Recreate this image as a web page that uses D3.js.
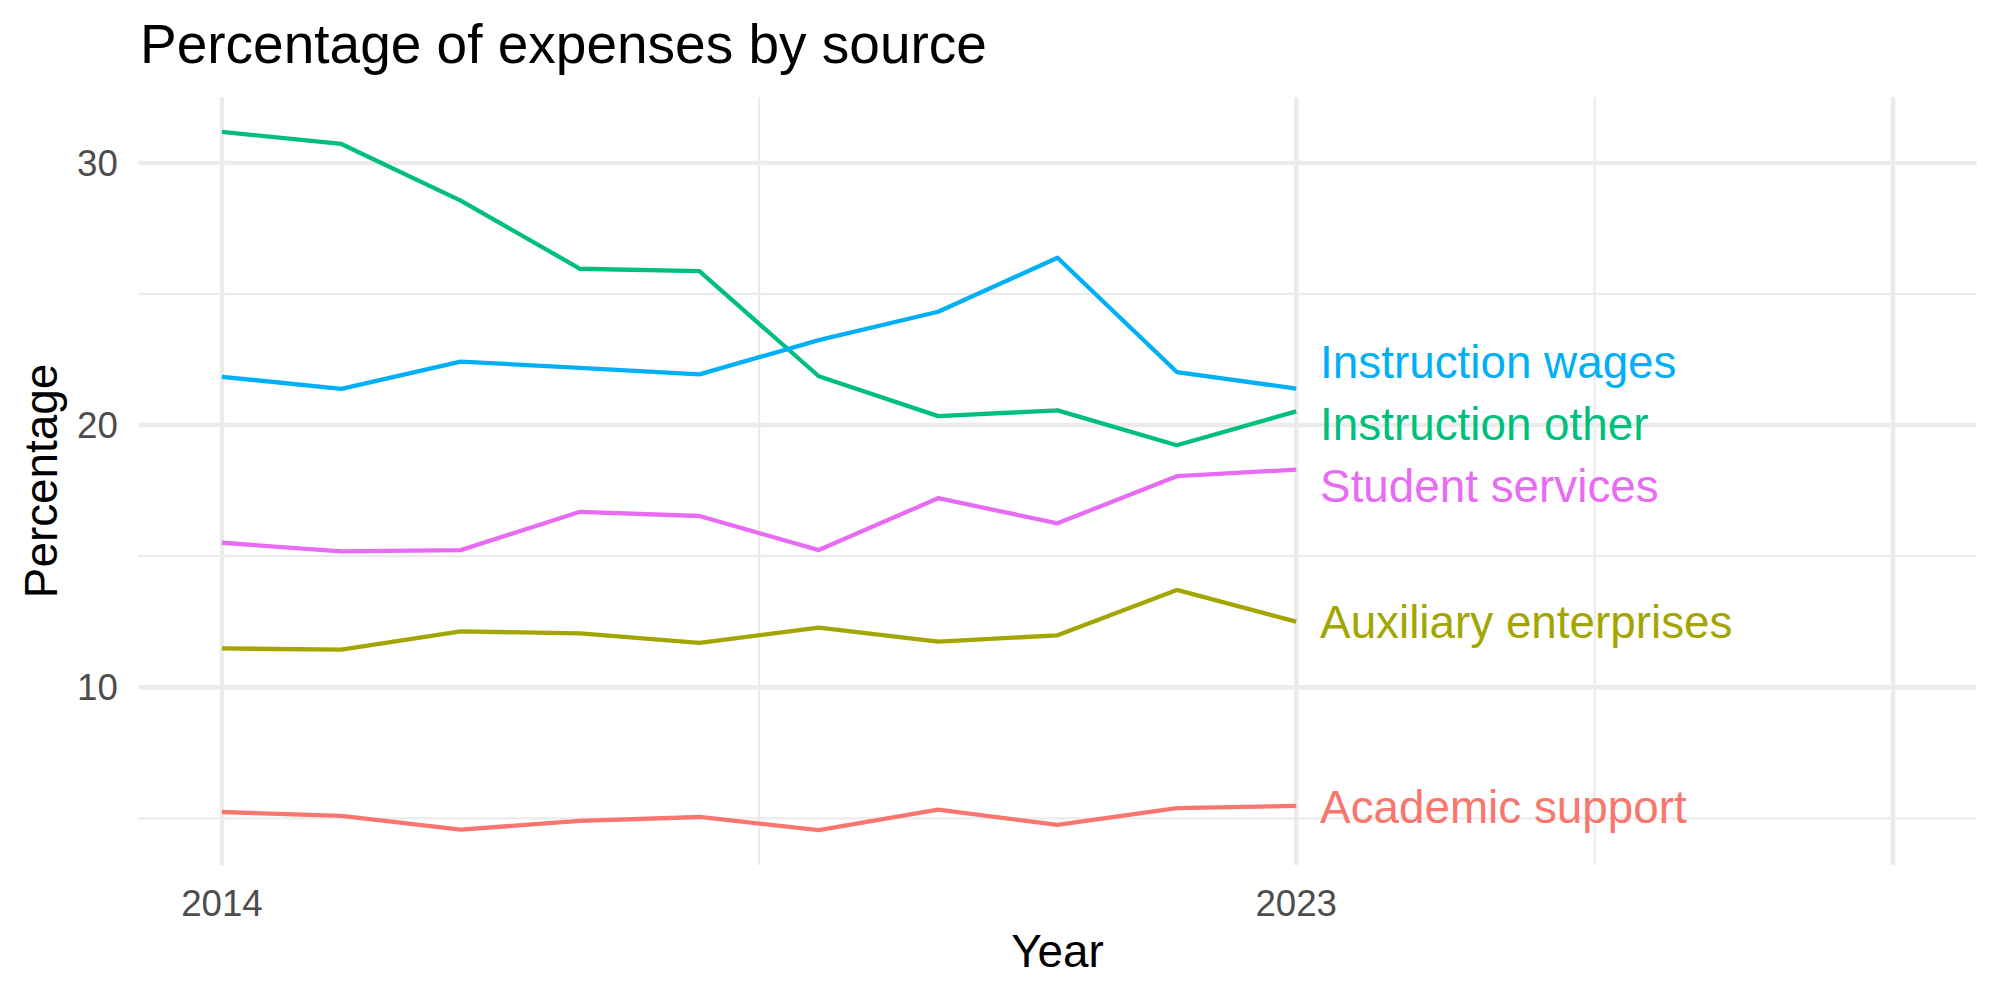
<!DOCTYPE html>
<html>
<head>
<meta charset="utf-8">
<script src="https://cdn.jsdelivr.net/npm/d3@7"></script>
<style>
  body { margin: 0; background: #fff; }
</style>
</head>
<body>
<script>
 let width = 2000;
 let height = 1000;

 // data
 const years = [2014, 2015, 2016, 2017, 2018, 2019, 2020, 2021, 2022, 2023];
 const series = ["Academic support", "Auxiliary enterprises", "Instruction other", "Instruction wages", "Student services"];
 const academicSupport   = [5.24, 5.09, 4.57, 4.90, 5.05, 4.55, 5.33, 4.75, 5.39, 5.47];
 const auxiliary         = [11.48, 11.43, 12.13, 12.05, 11.69, 12.27, 11.74, 11.98, 13.71, 12.50];
 const instructionOther  = [31.18, 30.72, 28.56, 25.96, 25.87, 21.86, 20.34, 20.56, 19.23, 20.52];
 const instructionWages  = [21.84, 21.38, 22.42, 22.18, 21.93, 23.24, 24.32, 26.38, 22.02, 21.39];
 const studentServices   = [15.51, 15.18, 15.23, 16.69, 16.53, 15.23, 17.21, 16.25, 18.05, 18.30];
 const colors = ["#F8766D", "#A3A500", "#00BF7D", "#00B0F6", "#E76BF3"];

 const xLimits = [2014, 2028];
 const xTicks = [2014, 2023, 2028];
 const xTickLabels = ["2014", "2023", ""];
 const xMinor = [2018.5, 2025.5];
 const yTicks = [10, 20, 30];
 const yMinor = [5, 15, 25];

 const values = [academicSupport, auxiliary, instructionOther, instructionWages, studentServices];
 const data = series.map((name, i) => ({
   name: name,
   color: colors[i],
   points: years.map((yr, j) => ({year: yr, value: values[i][j]}))
 }));

 // panel box
 const panel = {left: 138.4, right: 1976.6, top: 97, bottom: 865};
 const font = "'Liberation Sans', Arial, Helvetica, sans-serif";

 // ggplot style 5% expansion
 function expand(ext){
   let r = ext[1] - ext[0];
   return [ext[0] - r * 0.05, ext[1] + r * 0.05];
 }

 const allValues = values.flat();
 const x = d3.scaleLinear()
   .domain(expand(xLimits))
   .range([panel.left, panel.right]);
 const y = d3.scaleLinear()
   .domain(expand(d3.extent(allValues)))
   .range([panel.bottom, panel.top]);

 var svg = d3.select("body").append("svg")
   .attr("width", width)
   .attr("height", height)
   .attr("font-family", font);

 // minor grid
 const grid = svg.append("g").attr("stroke", "#EBEBEB").attr("fill", "none");
 grid.selectAll("line.ymin")
   .data(yMinor)
   .join("line")
     .attr("x1", panel.left).attr("x2", panel.right)
     .attr("y1", d => y(d)).attr("y2", d => y(d))
     .attr("stroke-width", 2.2);
 grid.selectAll("line.xmin")
   .data(xMinor)
   .join("line")
     .attr("y1", panel.top).attr("y2", panel.bottom)
     .attr("x1", d => x(d)).attr("x2", d => x(d))
     .attr("stroke-width", 2.2);

 // major grid
 const gridMajor = svg.append("g").attr("stroke", "#EBEBEB").attr("stroke-width", 4.4);
 gridMajor.selectAll("line.y")
   .data(yTicks)
   .join("line")
     .attr("x1", panel.left).attr("x2", panel.right)
     .attr("y1", d => y(d)).attr("y2", d => y(d));
 gridMajor.selectAll("line.x")
   .data(xTicks)
   .join("line")
     .attr("y1", panel.top).attr("y2", panel.bottom)
     .attr("x1", d => x(d)).attr("x2", d => x(d));

 // tick labels
 svg.append("g")
   .attr("font-size", 36.7)
   .attr("fill", "#4D4D4D")
   .attr("text-anchor", "end")
 .selectAll("text")
   .data(yTicks)
   .join("text")
     .attr("x", panel.left - 20.6)
     .attr("y", d => y(d) + 13.1)
     .text(d => d);

 svg.append("g")
   .attr("font-size", 36.7)
   .attr("fill", "#4D4D4D")
   .attr("text-anchor", "middle")
 .selectAll("text")
   .data(xTicks)
   .join("text")
     .attr("x", d => x(d))
     .attr("y", panel.bottom + 51)
     .text((d, i) => xTickLabels[i]);

 // lines
 const line = d3.line()
   .x(d => x(d.year))
   .y(d => y(d.value));

 svg.append("g")
   .attr("fill", "none")
   .attr("stroke-width", 4.3)
   .attr("stroke-linejoin", "round")
 .selectAll("path")
   .data(data)
   .join("path")
     .attr("stroke", d => d.color)
     .attr("d", d => line(d.points));

 // end labels, pushed apart so they don't overlap
 const gap = 62.3;
 let labels = data.map(d => {
   let last = d.points[d.points.length - 1];
   return {name: d.name, color: d.color, year: last.year, py: y(last.value)};
 });
 labels.sort((a, b) => a.py - b.py);
 for (let k = 0; k < 200; k++){
   for (let i = 1; i < labels.length; i++){
     let over = gap - (labels[i].py - labels[i-1].py);
     if (over > 0){
       labels[i-1].py -= over / 2;
       labels[i].py += over / 2;
     }
   }
 }

 svg.append("g")
   .attr("font-size", 45.8)
 .selectAll("text")
   .data(labels)
   .join("text")
     .attr("x", d => x(d.year + 0.2))
     .attr("y", d => d.py + 16.8)
     .attr("fill", d => d.color)
     .text(d => d.name);

 // titles
 svg.append("text")
   .attr("x", 140)
   .attr("y", 63)
   .attr("font-size", 55)
   .attr("fill", "#000")
   .text("Percentage of expenses by source");

 svg.append("text")
   .attr("x", (panel.left + panel.right) / 2)
   .attr("y", 967)
   .attr("text-anchor", "middle")
   .attr("font-size", 45.8)
   .text("Year");

 svg.append("text")
   .attr("transform", `translate(57,${(panel.top + panel.bottom) / 2}) rotate(-90)`)
   .attr("text-anchor", "middle")
   .attr("font-size", 45.8)
   .text("Percentage");
</script>
</body>
</html>
